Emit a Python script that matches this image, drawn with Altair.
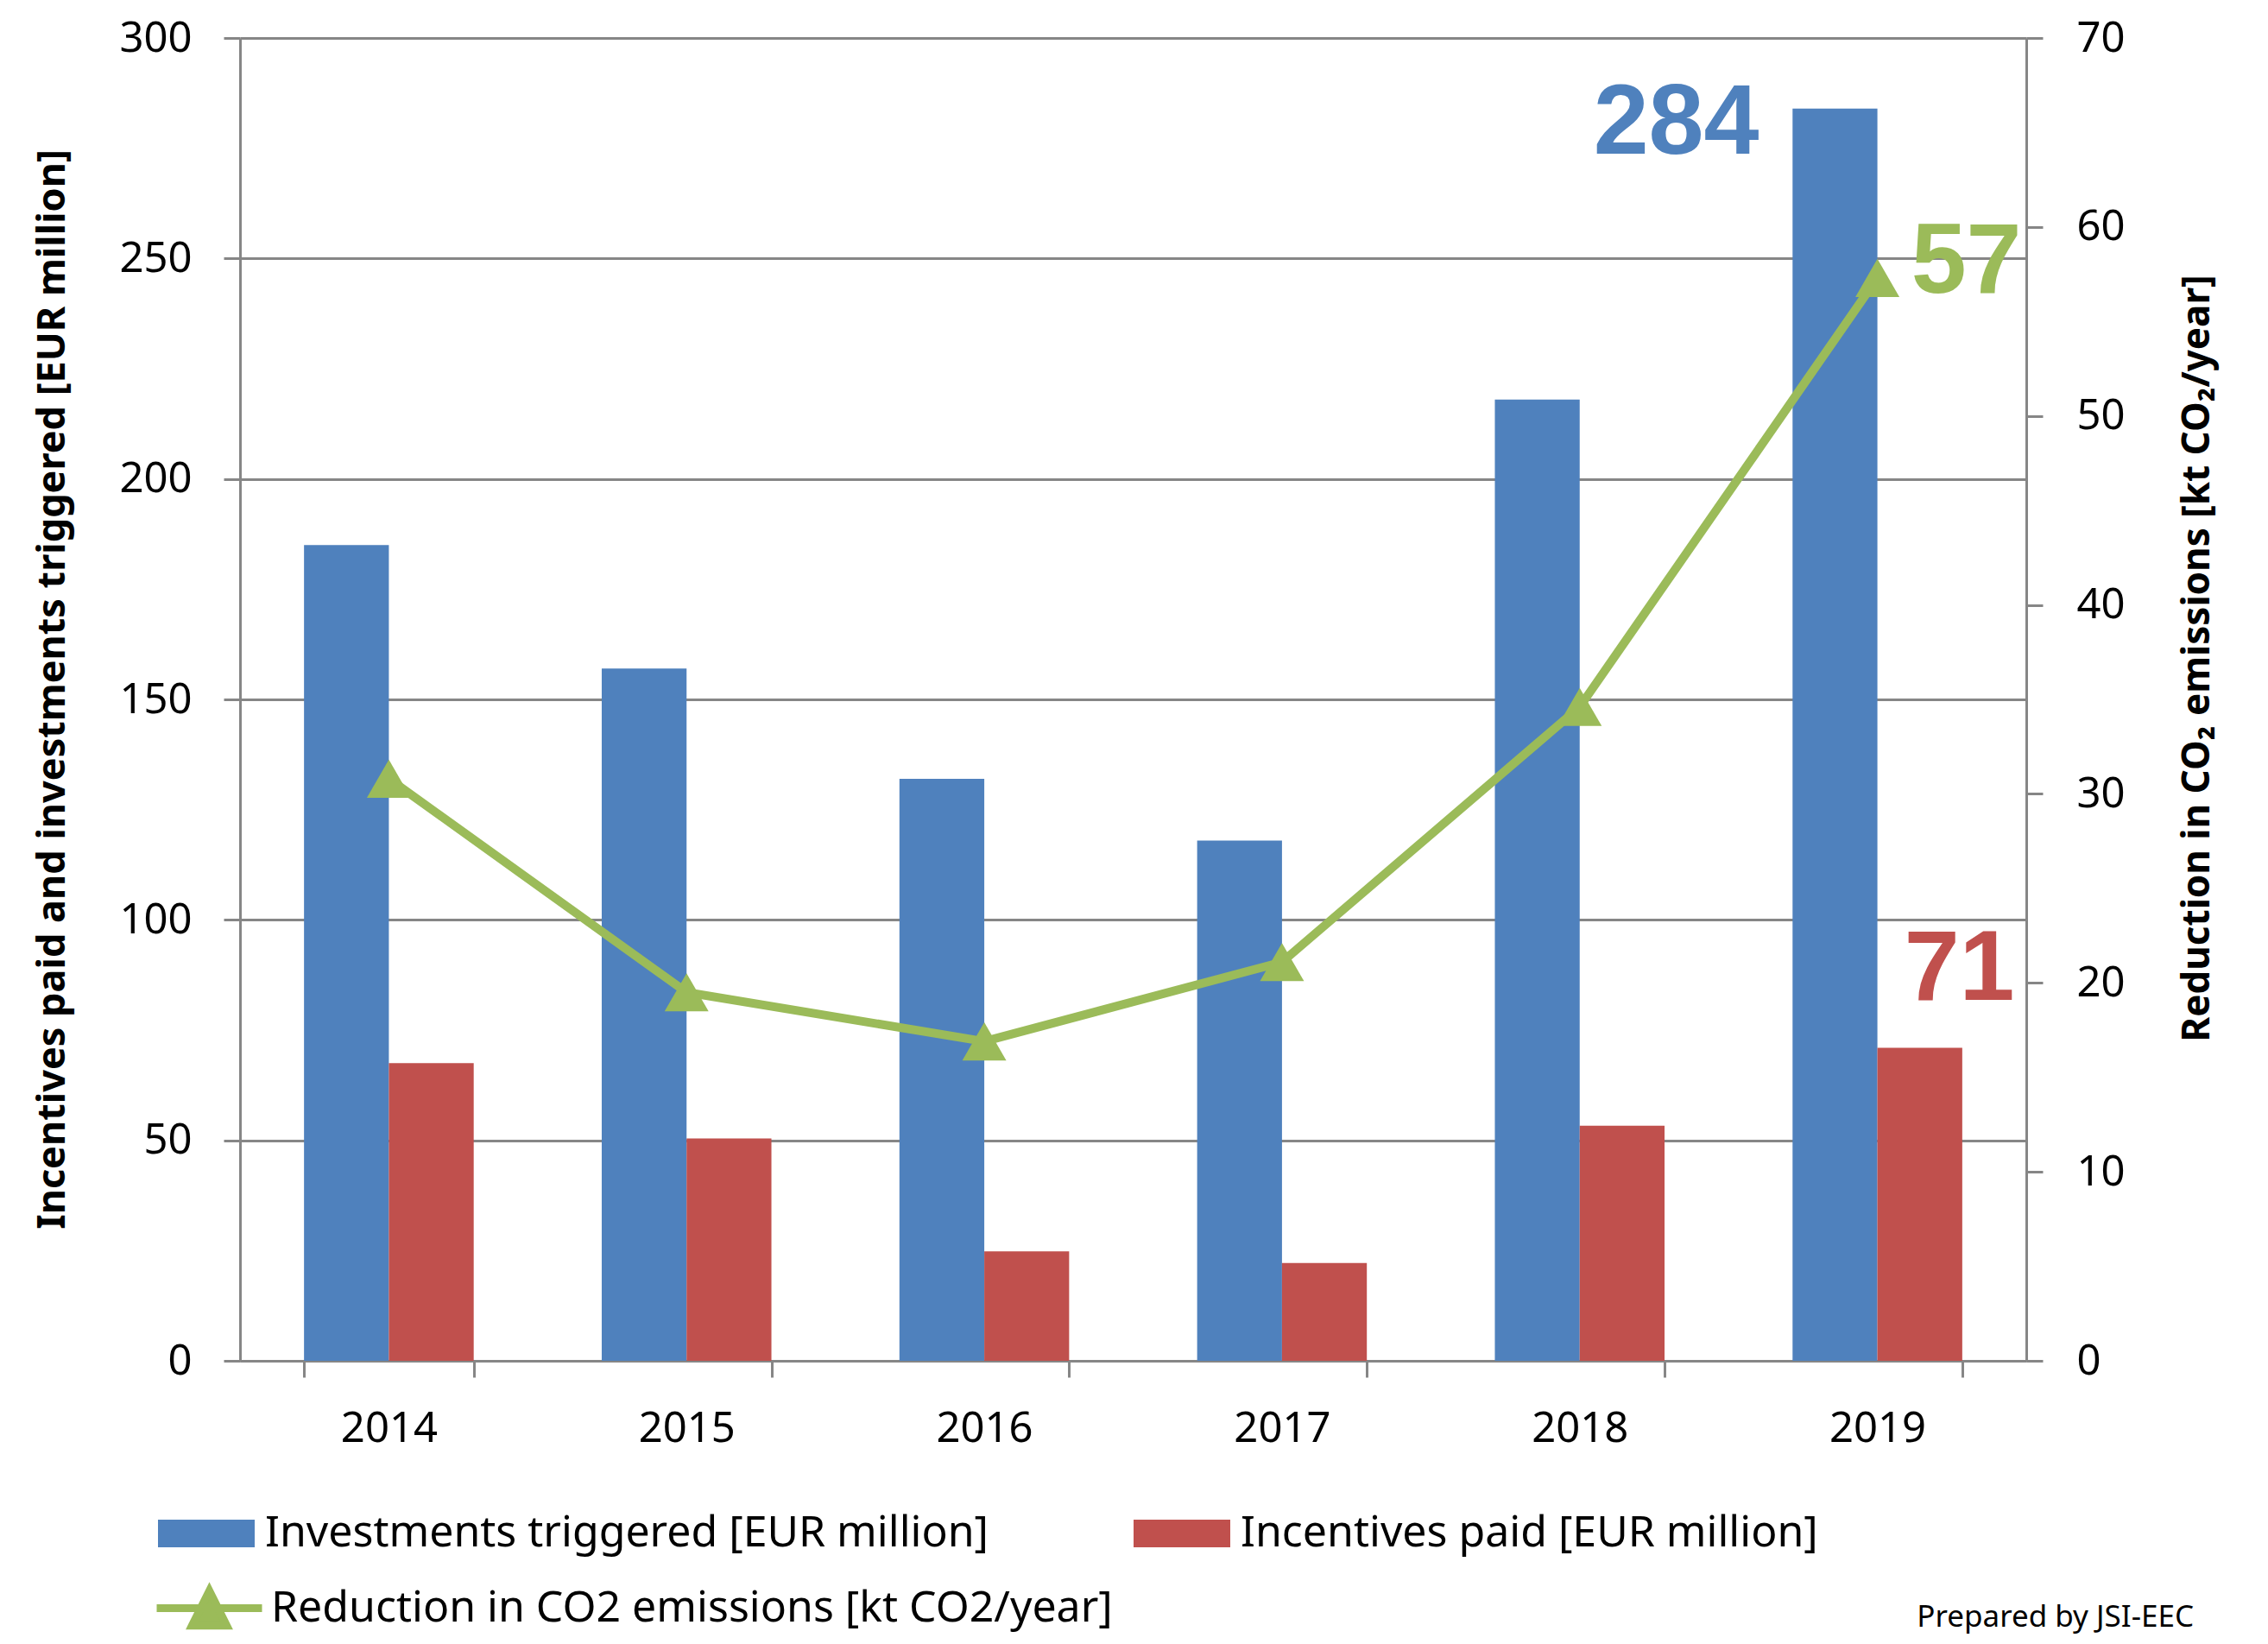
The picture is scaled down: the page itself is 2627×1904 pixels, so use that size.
import altair as alt
import pandas as pd

years = ["2014", "2015", "2016", "2017", "2018", "2019"]
investments = [185, 157, 132, 118, 218, 284]
incentives = [67.5, 50.4, 24.8, 22.2, 53.3, 71]
co2 = [30.8, 19.5, 16.9, 21.1, 34.6, 57.3]

inv_name = "Investments triggered [EUR million]"
inc_name = "Incentives paid [EUR million]"
co2_name = "Reduction in CO2 emissions [kt CO2/year]"
left_title = "Incentives paid and investments triggered [EUR million]"
right_title = "Reduction in CO₂ emissions [kt CO₂/year]"
credit = "Prepared by JSI-EEC"

left_ticks = [0, 50, 100, 150, 200, 250, 300]
right_ticks = [0, 10, 20, 30, 40, 50, 60, 70]

blue = "#4F81BD"
red = "#C0504D"
green = "#9BBB59"
gray = "#868686"
FONT = "Noto Sans"

W, H = 2069, 1532

bars_df = pd.DataFrame({
    "year": years * 2,
    "series": [inv_name] * len(years) + [inc_name] * len(years),
    "value": investments + incentives,
})
co2_df = pd.DataFrame({"year": years, "series": [co2_name] * len(years), "value": co2})
lab_inv = pd.DataFrame({"year": [years[-1]], "value": [investments[-1]], "label": [str(round(investments[-1]))]})
lab_inc = pd.DataFrame({"year": [years[-1]], "value": [incentives[-1]], "label": [str(round(incentives[-1]))]})
lab_co2 = pd.DataFrame({"year": [years[-1]], "value": [co2[-1]], "label": [str(round(co2[-1]))]})
credit_df = pd.DataFrame({"label": [credit]})

common_axis = dict(
    labelFont=FONT, labelFontSize=49, labelColor="black",
    tickColor=gray, tickWidth=3, tickSize=19,
    domainColor=gray, domainWidth=3,
)

x_enc = alt.X(
    "year:N",
    scale=alt.Scale(domain=years, paddingInner=0.43, paddingOuter=0.215),
    axis=alt.Axis(title=None, labelAngle=0, tickBand="extent", grid=False,
                  labelPadding=35, **common_axis),
)
xoff = alt.XOffset("series:N", scale=alt.Scale(domain=[inv_name, inc_name], paddingInner=0, paddingOuter=0))

y_left = alt.Y(
    "value:Q",
    scale=alt.Scale(domain=[0, 300], nice=False),
    axis=alt.Axis(values=left_ticks, title=left_title, titleFont=FONT, titleFontWeight="bold",
                  titleFontSize=45, titleColor="black", titleAngle=270, titleX=-218, titleY=754,
                  titleAlign="center", titleBaseline="middle", labelPadding=37,
                  grid=True, gridColor=gray, gridWidth=3, **common_axis),
)
y_right = alt.Y(
    "value:Q",
    scale=alt.Scale(domain=[0, 70], nice=False),
    axis=alt.Axis(orient="right", values=right_ticks, title=right_title, titleFont=FONT,
                  titleFontWeight="bold", titleFontSize=44, titleColor="black", titleAngle=270,
                  titleX=198, titleY=718, titleAlign="center", titleBaseline="middle",
                  labelPadding=39, grid=False, **common_axis),
)

rect_path = "M-1,-0.286L1,-0.286L1,0.286L-1,0.286Z"


def bar_legend(x, y):
    return alt.Legend(title=None, orient="none", legendX=x, legendY=y, symbolType=rect_path,
                      symbolSize=12544, symbolStrokeWidth=0, labelFont=FONT, labelFontSize=50,
                      labelColor="black", labelOffset=12, padding=0, labelLimit=0)


bars_inv = alt.Chart(bars_df).transform_filter(alt.datum.series == inv_name).mark_bar().encode(
    x=x_enc, xOffset=xoff, y=y_left,
    color=alt.Color("series:N", scale=alt.Scale(domain=[inv_name], range=[blue]),
                    legend=bar_legend(-95, 1676)),
)
bars_inc = alt.Chart(bars_df).transform_filter(alt.datum.series == inc_name).mark_bar().encode(
    x=x_enc, xOffset=xoff, y=y_left,
    color=alt.Color("series:N", scale=alt.Scale(domain=[inc_name], range=[red]),
                    legend=bar_legend(1035, 1676)),
)
txt_inv = alt.Chart(lab_inv).mark_text(font="Liberation Sans", fontWeight="bold", fontSize=115,
                                       color=blue, align="center", baseline="alphabetic",
                                       dx=-233, dy=52).encode(x=x_enc, y=y_left, text="label:N")
txt_inc = alt.Chart(lab_inc).mark_text(font="Liberation Sans", fontWeight="bold", fontSize=115,
                                       color=red, align="center", baseline="alphabetic",
                                       dx=95, dy=-55).encode(x=x_enc, y=y_left, text="label:N")

left = alt.layer(bars_inv, bars_inc, txt_inv, txt_inc).resolve_scale(color="independent")

line_path = "M-1,0L1,0M-0.33,0.33L0,-0.33L0.33,0.33Z"
line = alt.Chart(co2_df).mark_line(color=green, strokeWidth=10, strokeCap="round",
                                   strokeJoin="round").encode(
    x=x_enc, y=y_right,
    color=alt.Color("series:N", scale=alt.Scale(domain=[co2_name], range=[green]),
                    legend=alt.Legend(title=None, orient="none", legendX=-101, legendY=1753,
                                      symbolType=line_path, symbolSize=14884,
                                      symbolStrokeColor=green, symbolFillColor=green,
                                      symbolStrokeWidth=9, labelFont=FONT, labelFontSize=50,
                                      labelColor="black", labelOffset=6, padding=0, labelLimit=0)),
)
pts = alt.Chart(co2_df).mark_point(shape="triangle-up", size=2600, filled=True, color=green,
                                   opacity=1).encode(x=x_enc, y=y_right)
txt_co2 = alt.Chart(lab_co2).mark_text(font="Liberation Sans", fontWeight="bold", fontSize=115,
                                       color=green, align="center", baseline="alphabetic",
                                       dx=103, dy=17).encode(x=x_enc, y=y_right, text="label:N")

right = alt.layer(line, pts, txt_co2)

credit_txt = alt.Chart(credit_df).mark_text(font=FONT, fontSize=35, color="black", align="right",
                                            baseline="alphabetic").encode(
    x=alt.value(2263), y=alt.value(1840), text="label:N")

chart = alt.layer(left, right, credit_txt).resolve_scale(
    y="independent", color="independent").properties(
    width=W, height=H,
    autosize=alt.AutoSizeParams(type="none"),
    padding={"left": 270, "top": 36, "right": 260, "bottom": 320},
).configure_view(stroke=None)

chart.save("out.html", embed_options={"renderer": "svg", "actions": False})
